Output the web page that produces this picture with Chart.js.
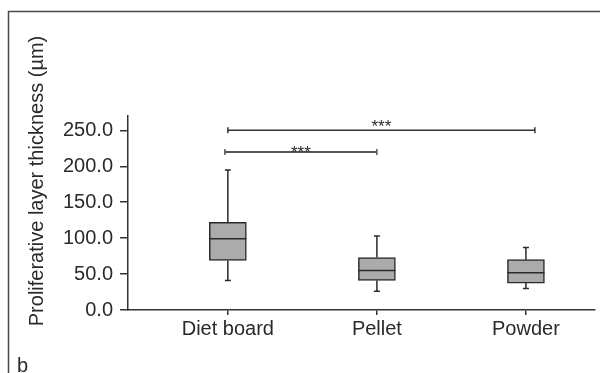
<!DOCTYPE html>
<html>
<head>
<meta charset="utf-8">
<script src="https://cdn.jsdelivr.net/npm/chart.js@4/dist/chart.umd.min.js"></script>
<style>
  html, body { margin: 0; padding: 0; background: #fff; }
  #wrap { position: relative; width: 600px; height: 373px; }
</style>
</head>
<body>
<div id="wrap"><canvas id="boxChart"></canvas></div>
<script>
// Box plot values (µm)
const groups = ['Diet board', 'Pellet', 'Powder'];
const whiskerLow = [41, 26, 30];
const q1 = [69, 41, 37.5];
const medians = [99, 55, 52];
const q3 = [122, 73, 70];
const whiskerHigh = [195, 103, 87];
const yTicks = [0, 50, 100, 150, 200, 250];

// significance brackets (x in group positions 1..3, y in µm)
const bracketFrom = [0.98, 1.0];
const bracketTo = [2.0, 3.06];
const bracketY = [220, 250];
const bracketLabel = ['***', '***'];

const FONT = 'Liberation Sans, Arial, Helvetica, sans-serif';
const INK = '#2a2a2a';

// whiskers, medians, star labels, frame and axis title
const boxExtras = {
  id: 'boxExtras',
  beforeDraw(chart) {
    const ctx = chart.ctx;
    ctx.save();
    ctx.strokeStyle = '#4a4a4a';
    ctx.lineWidth = 1.5;
    ctx.beginPath();
    ctx.moveTo(8.5, chart.height);
    ctx.lineTo(8.5, 11.5);
    ctx.lineTo(chart.width, 11.5);
    ctx.stroke();
    ctx.restore();
  },
  afterDatasetsDraw(chart) {
    const { ctx, scales: { x, y } } = chart;
    const boxes = chart.getDatasetMeta(0).data;
    ctx.save();
    ctx.strokeStyle = INK;
    ctx.lineWidth = 1.5;
    groups.forEach((g, i) => {
      const px = x.getPixelForValue(i + 1);
      const half = boxes[i].width / 2;
      const yHi = y.getPixelForValue(whiskerHigh[i]);
      const yLo = y.getPixelForValue(whiskerLow[i]);
      const yMed = y.getPixelForValue(medians[i]);
      ctx.beginPath();
      ctx.moveTo(px, y.getPixelForValue(q3[i]));
      ctx.lineTo(px, yHi);
      ctx.moveTo(px, y.getPixelForValue(q1[i]));
      ctx.lineTo(px, yLo);
      ctx.moveTo(px - 3, yHi);
      ctx.lineTo(px + 3, yHi);
      ctx.moveTo(px - 3, yLo);
      ctx.lineTo(px + 3, yLo);
      ctx.moveTo(px - half, yMed);
      ctx.lineTo(px + half, yMed);
      ctx.stroke();
    });

    // stars over the brackets
    const starOffset = [6, 2];
    ctx.fillStyle = INK;
    ctx.font = '17px ' + FONT;
    ctx.textAlign = 'center';
    ctx.textBaseline = 'alphabetic';
    bracketLabel.forEach((lab, i) => {
      const cx = x.getPixelForValue((bracketFrom[i] + bracketTo[i]) / 2);
      ctx.fillText(lab, cx, y.getPixelForValue(bracketY[i]) + starOffset[i]);
    });
    ctx.restore();
  },
  afterDraw(chart) {
    const ctx = chart.ctx;
    ctx.save();
    ctx.fillStyle = INK;
    ctx.font = '20px ' + FONT;
    ctx.textAlign = 'center';
    ctx.textBaseline = 'middle';
    ctx.translate(37, 181);
    ctx.rotate(-Math.PI / 2);
    ctx.fillText('Proliferative layer thickness (µm)', 0, 0);
    ctx.restore();

    ctx.save();
    ctx.fillStyle = INK;
    ctx.font = '20px ' + FONT;
    ctx.textAlign = 'left';
    ctx.textBaseline = 'alphabetic';
    ctx.fillText('b', 17, 372);
    ctx.restore();
  }
};

const bracketSets = bracketY.map((v, i) => ({
  type: 'line',
  data: [{ x: bracketFrom[i], y: v }, { x: bracketTo[i], y: v }],
  borderColor: i === 0 ? '#555555' : '#333333',
  borderWidth: i === 0 ? 2 : 1.5,
  pointStyle: 'line',
  rotation: 90,
  pointRadius: 3,
  pointBorderWidth: 1.5,
  pointBorderColor: i === 0 ? '#555555' : '#333333',
  fill: false
}));

const ctx = document.getElementById('boxChart').getContext('2d');
const boxChart = new Chart(ctx, {
  type: 'bar',
  data: {
    datasets: [{
      data: groups.map((g, i) => ({ x: i + 1, y: [q1[i], q3[i]] })),
      backgroundColor: '#ababab',
      borderColor: INK,
      borderWidth: 1.5,
      borderSkipped: false,
      barThickness: 37
    }, ...bracketSets]
  },
  options: {
    responsive: true,
    maintainAspectRatio: false,
    animation: false,
    layout: { padding: { top: 116, left: 0, right: 0, bottom: 0 } },
    plugins: { legend: { display: false }, tooltip: { enabled: false } },
    scales: {
      x: {
        type: 'linear',
        min: 0.33,
        max: 3.46,
        offset: false,
        grid: { drawOnChartArea: false, offset: false, tickLength: 5, color: '#333', lineWidth: 1.5 },
        border: { color: '#333', width: 1.5 },
        afterBuildTicks: (scale) => { scale.ticks = groups.map((g, i) => ({ value: i + 1 })); },
        afterFit: (scale) => { scale.height = 63; },
        ticks: {
          padding: 2,
          color: INK,
          font: { family: FONT, size: 20 },
          maxRotation: 0,
          callback: (v) => groups[v - 1]
        }
      },
      y: {
        min: 0,
        max: 270,
        grid: { drawOnChartArea: false, tickLength: 8, color: '#333', lineWidth: 1.5 },
        border: { color: '#333', width: 1.5 },
        afterBuildTicks: (scale) => { scale.ticks = yTicks.map(v => ({ value: v })); },
        afterFit: (scale) => { scale.width = 128; },
        ticks: {
          padding: 7,
          color: INK,
          font: { family: FONT, size: 20 },
          callback: (v) => v.toFixed(1)
        }
      }
    }
  },
  plugins: [boxExtras]
});
</script>
</body>
</html>
